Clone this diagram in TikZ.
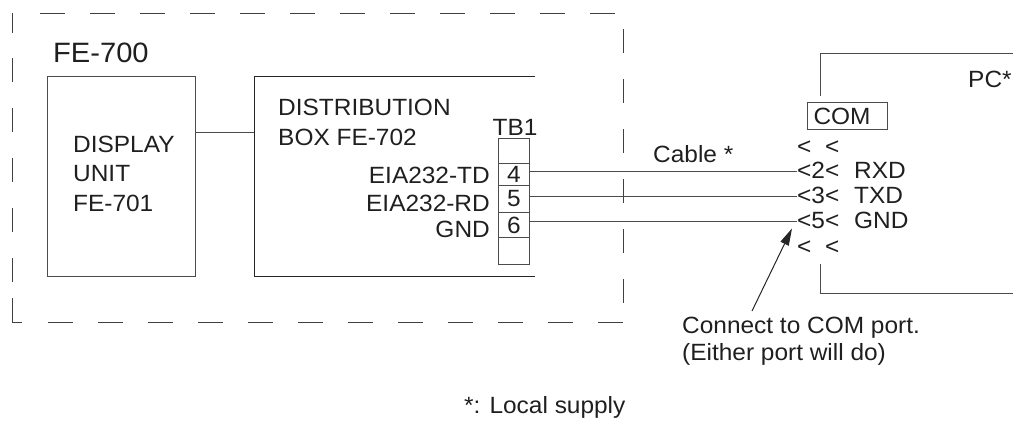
\documentclass[tikz,border=0pt]{standalone}
\usepackage{fontspec}
\setmainfont{Liberation Sans}[FakeStretch=1.04]
\usetikzlibrary{arrows.meta}
\newcommand\fnt{\fontsize{23.5}{29.5}\selectfont}
\newcommand\fntbig{\fontsize{28}{33}\selectfont}
\begin{document}
\begin{tikzpicture}[x=1pt,y=-1pt,
  lbl/.style={inner sep=0pt, font=\fnt, text=black!88},
  ln/.style={line width=1pt, draw=black!70},
  dsh/.style={line width=1pt, draw=black!75},
  cell/.style={ln, draw, minimum width=31pt, inner sep=0pt, anchor=north west, font=\fnt, text=black!88},
  plain/.style={inner sep=0pt, anchor=north west}
]
\useasboundingbox (0,0) rectangle (1013,421);

% dashed frame FE-700
\draw[dsh] (12,13) -- (12,33);
\foreach \x in {40,90,...,590} \draw[dsh] (\x,13) -- ++(25,0);
\foreach \y in {58,108,...,258} \draw[dsh] (12,\y) -- ++(0,24);
\draw[dsh] (12,298) -- (12,322) -- (22,322);
\foreach \x in {48,98,...,598} \draw[dsh] (\x,322) -- ++(25,0);
\foreach \y in {29,79,...,279} \draw[dsh] (623,\y) -- ++(0,24);
\node[lbl, font=\fntbig, anchor=base west] (fe) at (53,62) {FE-700};

% display unit
\node[ln, draw, plain, minimum width=148pt, minimum height=200pt] (du) at (47,76) {};
\node[lbl, anchor=base west, align=left] (dut) at (73,211) {DISPLAY\\UNIT\\FE-701};

% distribution box
\node[plain, minimum width=281pt, minimum height=200pt] (db) at (254,76) {};
\draw[ln, draw=black!85] (db.north east) -- (db.north west) -- (db.south west) -- (db.south east);
\draw[ln] ([yshift=44pt]du.east) -- ([yshift=44pt]du.east -| db.west);
\node[lbl, anchor=base west, align=left] (dbt) at (278,145) {DISTRIBUTION\\BOX FE-702};
\node[lbl, anchor=base] (tbl) at (515,135) {TB1};
\node[lbl, anchor=base east] (td) at (490,183) {EIA232-TD};
\node[lbl, anchor=base east] (rd) at (490,211) {EIA232-RD};
\node[lbl, anchor=base east] (gd) at (490,237) {GND};

% TB1 terminal strip
\node[cell, minimum height=25pt] (tb0) at (498,138) {};
\node[cell, minimum height=22pt] (tb4) at (498,163) {4};
\node[cell, minimum height=27pt] (tb5) at (498,185) {5};
\node[cell, minimum height=25pt] (tb6) at (498,212) {6};
\node[cell, minimum height=27pt] (tb7) at (498,237) {};

% PC
\node[plain, minimum width=193pt, minimum height=240pt] (pc) at (820,53) {};
\draw[ln] (pc.north east) -- (pc.north west) -- ([yshift=-43pt]pc.north west);
\draw[ln] ([yshift=29pt]pc.south west) -- (pc.south west) -- (pc.south east);
\node[lbl, anchor=base west] (pcl) at (968,87) {PC*};
\node[ln, draw, anchor=north west, minimum width=80pt, minimum height=27pt,
      inner xsep=6pt, inner ysep=0pt, text width=68pt, align=left,
      font=\fnt, text=black!88] (com) at (807,102) {COM};

\node[lbl, anchor=base west] (pr0) at (797,154) {<\phantom{2}<};
\node[lbl, anchor=base west] (p2) at (797,178) {<2<};
\node[lbl, anchor=base west] (rxd) at (854,178) {RXD};
\node[lbl, anchor=base west] (p3) at (797,203) {<3<};
\node[lbl, anchor=base west] (txd) at (854,203) {TXD};
\node[lbl, anchor=base west] (p5) at (797,228) {<5<};
\node[lbl, anchor=base west] (gnd) at (854,228) {GND};
\node[lbl, anchor=base west] (pr1) at (797,254) {<\phantom{2}<};

% cable
\draw[ln] ([yshift=-1.5pt]p2.west) -- ([yshift=-1.5pt]p2.west -| tb4.east);
\draw[ln] ([yshift=-1.5pt]p3.west) -- ([yshift=-1.5pt]p3.west -| tb5.east);
\draw[ln] ([yshift=-1.5pt]p5.west) -- ([yshift=-1.5pt]p5.west -| tb6.east);
\node[lbl, anchor=base west] (cab) at (653,162) {Cable *};

% note
\node[lbl, anchor=base west, align=left, font=\fontsize{23.5}{27}\selectfont] (note) at (682,360) {Connect to COM port.\\(Either port will do)};
\coordinate (atail) at (752,311);
\draw[ln, draw=black!85, -{Triangle[length=17pt,width=9pt]}] (atail) -- ([xshift=-5pt]p5.south west);

\node[lbl, anchor=base west] (foot) at (464,413) {*: Local supply};
\end{tikzpicture}
\end{document}
